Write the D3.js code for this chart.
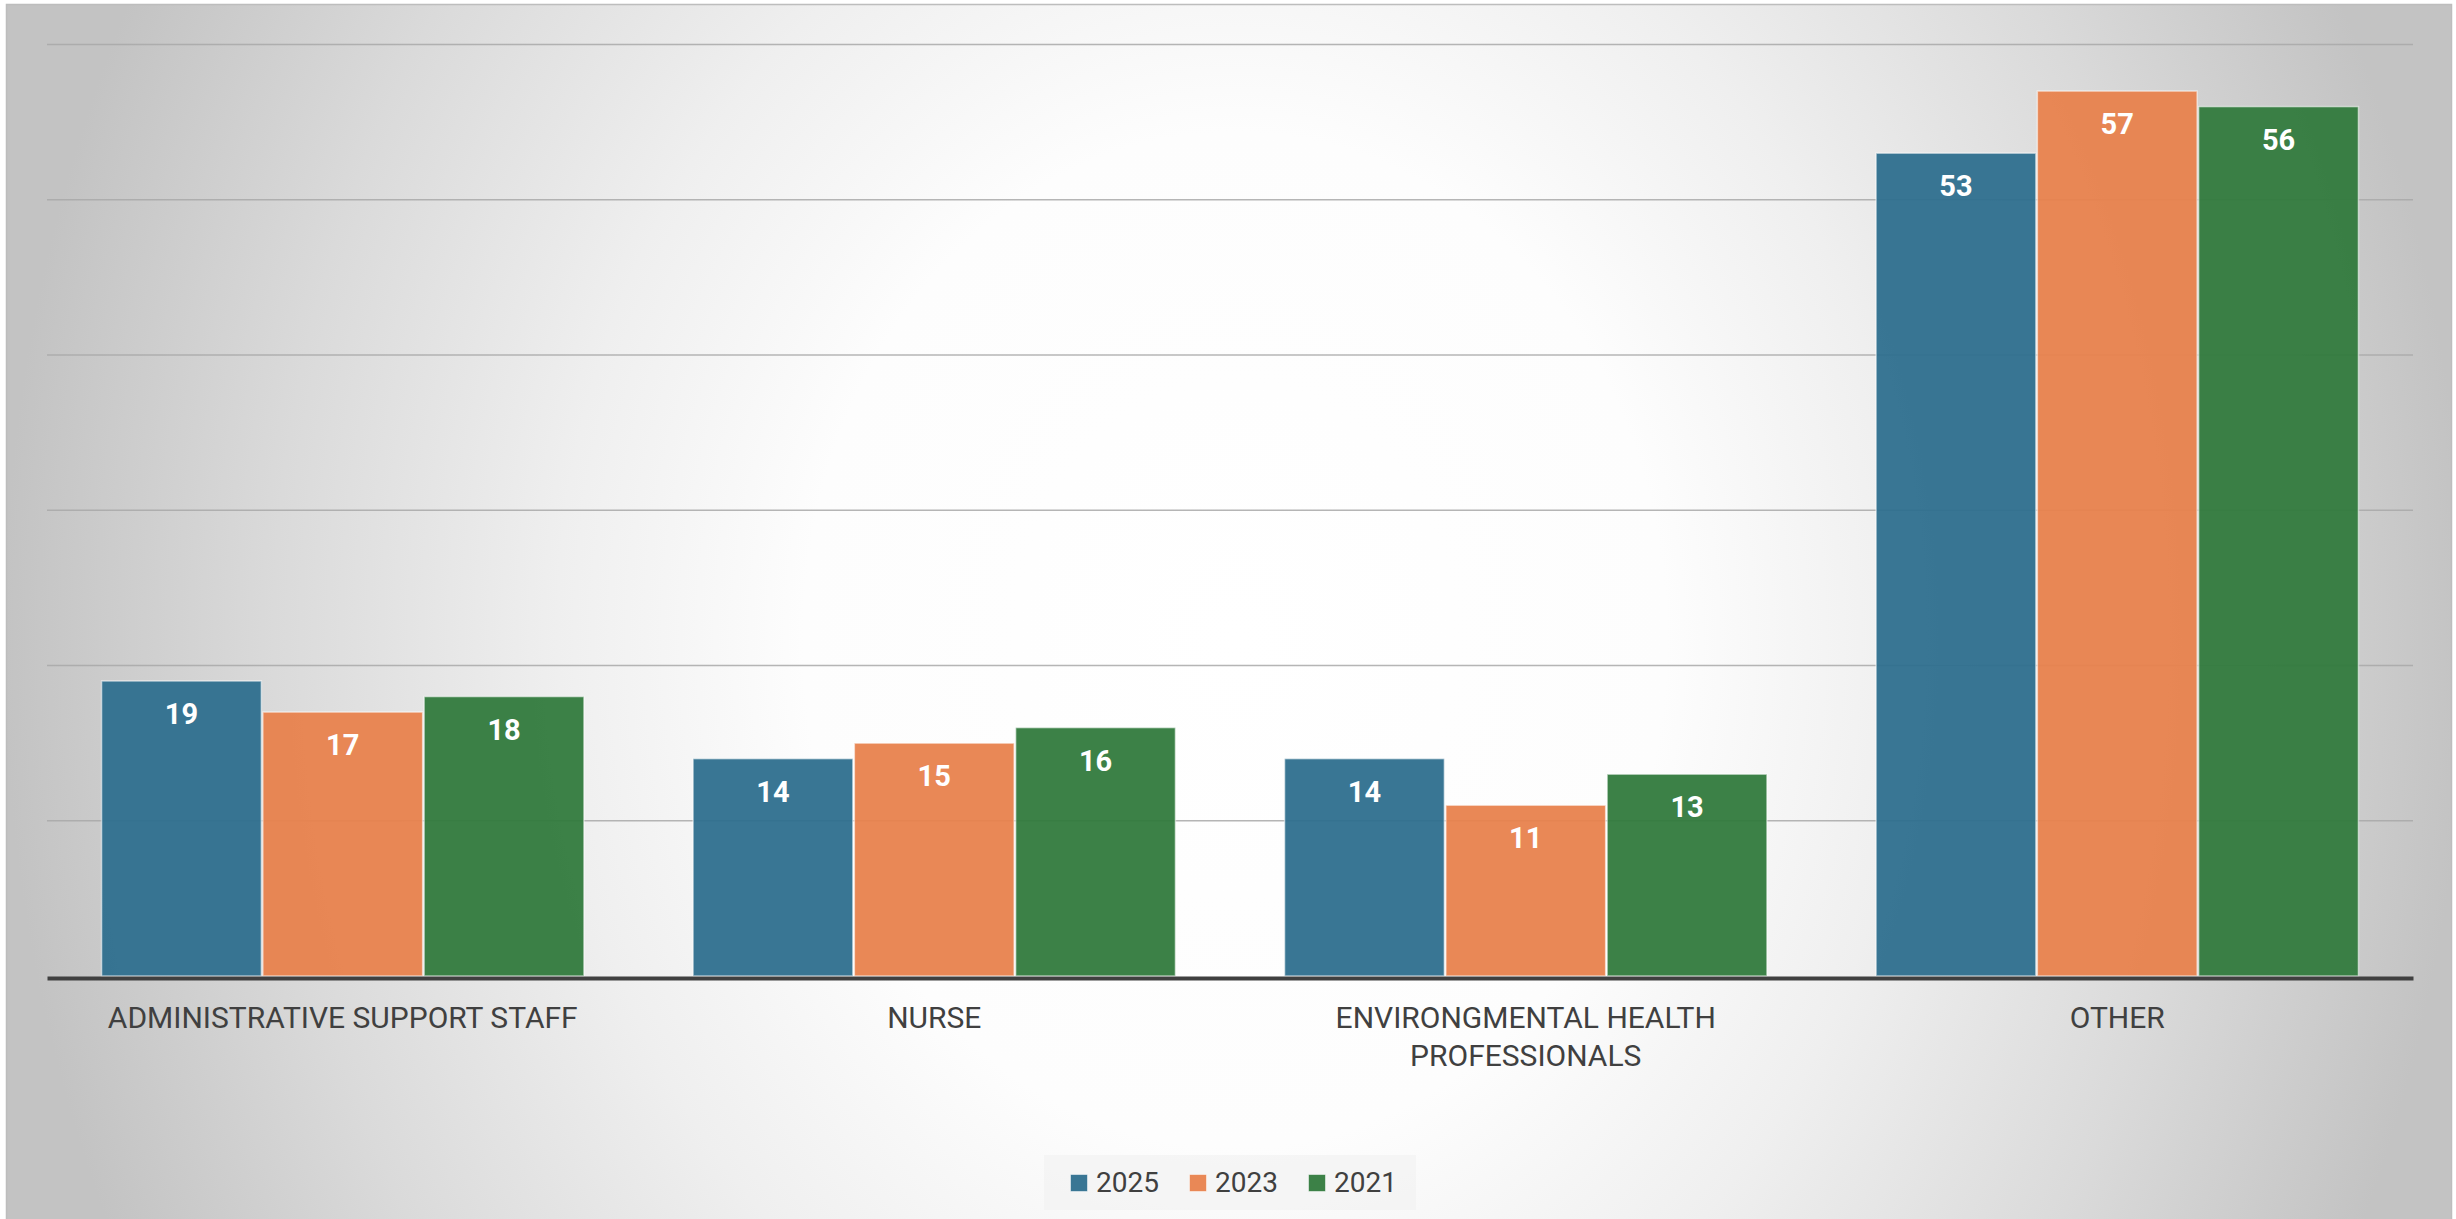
<!DOCTYPE html>
<html>
<head>
<meta charset="utf-8">
<script src="https://cdn.jsdelivr.net/npm/d3@7"></script>
<style>
html,body{margin:0;padding:0;background:#fff;}
svg{display:block;}
</style>
</head>
<body>
<script>
const categories = [["ADMINISTRATIVE SUPPORT STAFF"], ["NURSE"], ["ENVIRONGMENTAL HEALTH", "PROFESSIONALS"], ["OTHER"]];
const seriesNames = ["2025", "2023", "2021"];
const values2025 = [19, 14, 14, 53];
const values2023 = [17, 15, 11, 57];
const values2021 = [18, 16, 13, 56];
const yTicks = [0, 10, 20, 30, 40, 50, 60];
const seriesColors = ["#2e6f8e", "#e8824d", "#327a3d"];

const W = 2456, H = 1219;
const svg = d3.select("body").append("svg").attr("width", W).attr("height", H);

const defs = svg.append("defs");
const grad = defs.append("radialGradient").attr("id", "bg")
  .attr("gradientUnits", "userSpaceOnUse")
  .attr("cx", 0).attr("cy", 0).attr("r", 1)
  .attr("gradientTransform", "translate(1235,640) scale(1232,1450)");
grad.append("stop").attr("offset", "0").attr("stop-color", "#ffffff");
grad.append("stop").attr("offset", "0.35").attr("stop-color", "#fdfdfd");
grad.append("stop").attr("offset", "0.55").attr("stop-color", "#efefef");
grad.append("stop").attr("offset", "0.78").attr("stop-color", "#dadada");
grad.append("stop").attr("offset", "1").attr("stop-color", "#c3c3c3");

svg.append("rect").attr("x", 6.5).attr("y", 4.5).attr("width", 2445).attr("height", 1220)
  .attr("fill", "url(#bg)").attr("stroke", "#bdbdbd").attr("stroke-width", 1.5);

const gridLeft = 47, gridRight = 2413;
const y = d3.scaleLinear().domain([0, 60]).range([976, 44.5]);

// gridlines
svg.append("g").selectAll("line").data(yTicks.filter(d => d > 0)).join("line")
  .attr("x1", gridLeft).attr("x2", gridRight)
  .attr("y1", d => y(d)).attr("y2", d => y(d))
  .attr("stroke", "#a8a8a8").attr("stroke-opacity", 0.85).attr("stroke-width", 1.5);

const x0 = d3.scaleBand().domain(d3.range(categories.length)).range([gridLeft, gridRight])
  .paddingInner(0.182).paddingOuter(0.091);
const x1 = d3.scaleBand().domain(seriesNames).range([0, x0.bandwidth()]).padding(0);

const series = [values2025, values2023, values2021];
const rows = [];
categories.forEach((c, i) => {
  seriesNames.forEach((s, j) => rows.push({cat: i, s, j, v: series[j][i]}));
});

const bars = svg.append("g");
bars.selectAll("rect").data(rows).join("rect")
  .attr("x", d => x0(d.cat) + x1(d.s) + 0.75)
  .attr("width", x1.bandwidth() - 1.5)
  .attr("y", d => y(d.v))
  .attr("height", d => y(0) - y(d.v))
  .attr("fill", d => seriesColors[d.j]).attr("fill-opacity", 0.95)
  .attr("stroke", "#ffffff").attr("stroke-opacity", 0.55).attr("stroke-width", 1.5);

bars.selectAll("text").data(rows).join("text")
  .attr("x", d => x0(d.cat) + x1(d.s) + x1.bandwidth() / 2)
  .attr("y", d => y(d.v) + 43)
  .attr("text-anchor", "middle")
  .attr("font-family", "Roboto, Arial, sans-serif").attr("font-weight", "bold")
  .attr("font-size", 29).attr("fill", "#ffffff")
  .text(d => d.v);

// baseline axis
const xAxis = d3.axisBottom(d3.scaleLinear().range([gridLeft, gridRight])).ticks(0).tickSize(0);
const ax = svg.append("g").attr("transform", `translate(0,${y(0) + 2})`).call(xAxis);
ax.select(".domain").attr("stroke", "#404040").attr("stroke-width", 4);
ax.selectAll(".tick").remove();

// category labels
const lab = svg.append("g");
categories.forEach((lines, i) => {
  const cx = x0(i) + x0.bandwidth() / 2;
  const t = lab.append("text")
    .attr("x", cx).attr("y", 1028)
    .attr("text-anchor", "middle")
    .attr("font-family", "Roboto, Arial, sans-serif").attr("font-size", 30)
    .attr("fill", "#404040");
  lines.forEach((l, k) => t.append("tspan").attr("x", cx).attr("dy", k === 0 ? 0 : 38).text(l));
});

// legend
const lg = svg.append("g");
lg.append("rect").attr("x", 1044).attr("y", 1155).attr("width", 372).attr("height", 55)
  .attr("fill", "#f2f2f2").attr("fill-opacity", 0.7);
const legX = [1070, 1189, 1308];
seriesNames.forEach((s, j) => {
  lg.append("rect").attr("x", legX[j] + 0.5).attr("y", 1174.5).attr("width", 17).attr("height", 17)
    .attr("fill", seriesColors[j]).attr("fill-opacity", 0.95)
    .attr("stroke", "#ffffff").attr("stroke-opacity", 0.5).attr("stroke-width", 1);
  lg.append("text").attr("x", legX[j] + 26).attr("y", 1192)
    .attr("font-family", "Roboto, Arial, sans-serif").attr("font-size", 28)
    .attr("fill", "#404040").text(s);
});
</script>
</body>
</html>
